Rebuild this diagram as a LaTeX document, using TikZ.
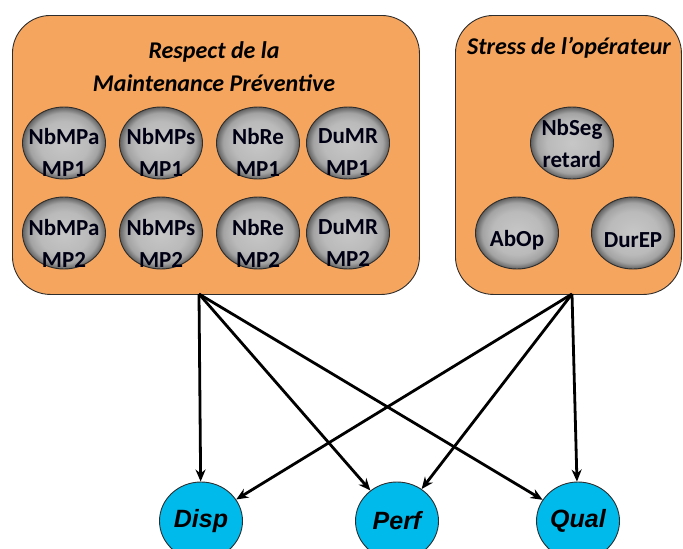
\documentclass[tikz,border=0pt]{standalone}
\usepackage{fontspec}
\setmainfont{Carlito}
\newfontfamily\arialfont{Liberation Sans}
\usetikzlibrary{shapes.geometric,arrows.meta}
\definecolor{boxorange}{RGB}{246,165,94}
\definecolor{cyanfill}{RGB}{0,186,236}
\definecolor{edgegray}{RGB}{45,45,45}
\pgfdeclareradialshading{rimshade}{\pgfpoint{0bp}{0bp}}{%
  color(0bp)=(black!22); color(15bp)=(black!27); color(21bp)=(black!36);
  color(25bp)=(black!62); color(50bp)=(black!62)}
\begin{document}
\begin{tikzpicture}[x=1pt,y=-1pt,
 grp/.style={rectangle, draw=edgegray, line width=0.9pt, fill=boxorange, rounded corners=38pt, inner sep=0pt, anchor=north west},
 ell/.style={ellipse, draw=edgegray, line width=0.9pt, shading=rimshade, minimum width=83pt, minimum height=72pt, inner sep=0pt},
 etxt/.style={font=\fontsize{23}{32}\selectfont\bfseries, align=center, inner sep=0pt, text=black!92!blue},
 ttl/.style={font=\fontsize{24}{33}\selectfont\bfseries\itshape, align=center, inner sep=0pt},
 outc/.style={ellipse, draw=edgegray, line width=0.9pt, fill=cyanfill, minimum width=83pt, minimum height=78pt, inner sep=0pt, font=\arialfont\fontsize{25}{28}\selectfont\bfseries\itshape},
 arr/.style={-{Stealth[length=12pt,width=10pt]}, line width=2.8pt, black}
]
\useasboundingbox (0,0) rectangle (683,549);
% groups
\node[grp, minimum width=407pt, minimum height=279pt] (L) at (12,15) {};
\node[grp, minimum width=226pt, minimum height=279pt] (R) at (455,15) {};
\node[ttl] (lt) at (214,67) {Respect de la\\Maintenance Préventive};
\node[ttl] (rt) at (569,48) {Stress de l’opérateur};
% left ellipses
\foreach \x/\n/\t in {64/a/NbMPa,161/b/NbMPs,258/c/NbRe,348/d/DuMR}{
  \node[ell] (e1\n) at (\x,143) {};
  \node[etxt] (t1\n) at (\x,152) {\t\\MP1};
  \node[ell] (e2\n) at (\x,233) {};
  \node[etxt] (t2\n) at (\x,243) {\t\\MP2};
}
% right ellipses
\node[ell] (eseg) at (572,143) {};
\node[etxt] (tseg) at (572,144) {NbSeg\\retard};
\node[ell] (eab) at (517,233) {};
\node[etxt] (tab) at (517,240) {AbOp};
\node[ell] (edur) at (633,233) {};
\node[etxt] (tdur) at (633,240) {DurEP};
% outputs
\node[outc] (disp) at (201,521) {Disp};
\node[outc] (perf) at (397,521) {Perf};
\node[outc] (qual) at (578,521) {Qual};
% sources
\coordinate (ls) at (199,294);
\coordinate (rs) at (572,294);
\draw[arr] (ls) -- (disp);
\draw[arr] (ls) -- (perf);
\draw[arr] (ls) -- (qual);
\draw[arr] (rs) -- (disp);
\draw[arr] (rs) -- (perf);
\draw[arr] (rs) -- (qual);
\end{tikzpicture}
\end{document}
